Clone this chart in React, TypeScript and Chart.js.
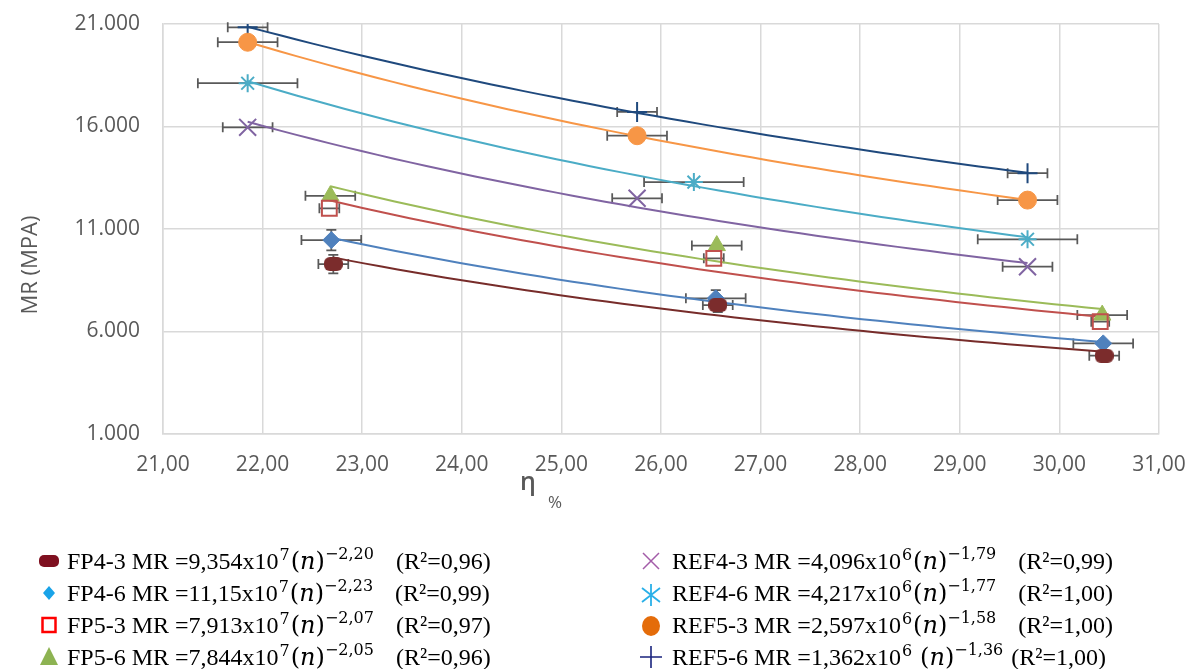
import React, { useEffect, useRef } from 'react';
import { Chart, registerables } from 'chart.js';

Chart.register(...registerables);

// ---------- data ----------
const seriesNames = ['FP4-3', 'FP4-6', 'FP5-3', 'FP5-6', 'REF4-3', 'REF4-6', 'REF5-3', 'REF5-6'];

const fp43X = [22.71, 26.57, 30.45];
const fp43Y = [9290, 7290, 4820];
const fp43XErr = [0.15, 0.15, 0.15];
const fp43YErr = [450, 350, 0];

const fp46X = [22.69, 26.55, 30.44];
const fp46Y = [10460, 7620, 5420];
const fp46XErr = [0.3, 0.3, 0.3];
const fp46YErr = [500, 400, 0];

const fp53X = [22.67, 26.53, 30.41];
const fp53Y = [12010, 9570, 6480];
const fp53XErr = [0.1, 0.1, 0.09];
const fp53YErr = [0, 0, 0];

const fp56X = [22.68, 26.56, 30.43];
const fp56Y = [12620, 10190, 6800];
const fp56XErr = [0.25, 0.25, 0.25];
const fp56YErr = [0, 0, 0];

const ref43X = [21.85, 25.76, 29.68];
const ref43Y = [15960, 12500, 9160];
const ref43XErr = [0.25, 0.25, 0.25];
const ref43YErr = [0, 0, 0];

const ref46X = [21.85, 26.33, 29.68];
const ref46Y = [18110, 13290, 10500];
const ref46XErr = [0.5, 0.5, 0.5];
const ref46YErr = [0, 0, 0];

const ref53X = [21.85, 25.76, 29.68];
const ref53Y = [20110, 15550, 12410];
const ref53XErr = [0.3, 0.3, 0.3];
const ref53YErr = [0, 0, 0];

const ref56X = [21.85, 25.76, 29.68];
const ref56Y = [20840, 16710, 13720];
const ref56XErr = [0.2, 0.2, 0.2];
const ref56YErr = [0, 0, 0];

const allX = [fp43X, fp46X, fp53X, fp56X, ref43X, ref46X, ref53X, ref56X];
const allY = [fp43Y, fp46Y, fp53Y, fp56Y, ref43Y, ref46Y, ref53Y, ref56Y];
const allXErr = [fp43XErr, fp46XErr, fp53XErr, fp56XErr, ref43XErr, ref46XErr, ref53XErr, ref56XErr];
const allYErr = [fp43YErr, fp46YErr, fp53YErr, fp56YErr, ref43YErr, ref46YErr, ref53YErr, ref56YErr];

// axis ticks
const xMin = 21;
const xMax = 31;
const xStep = 1;
const yMin = 1000;
const yMax = 21000;
const yStep = 5000;

// legend texts
const legendCoef = ['9,354x10', '11,15x10', '7,913x10', '7,844x10', '4,096x10', '4,217x10', '2,597x10', '1,362x10'];
const legendPow10 = ['7', '7', '7', '7', '6', '6', '6', '6'];
const legendExp = ['−2,20', '−2,23', '−2,07', '−2,05', '−1,79', '−1,77', '−1,58', '−1,36'];
const legendR2 = ['0,96', '0,99', '0,97', '0,96', '0,99', '1,00', '1,00', '1,00'];

const yTitle = 'MR (MPA)';
const xTitleMain = 'η';
const xTitleSub = '%';

// ---------- styles ----------
const lineColors = ['#772c2a', '#4f81bd', '#c0504d', '#9bbb59', '#8064a2', '#4bacc6', '#f79646', '#1f497d'];
const legendColors = ['#7f1020', '#19a3e8', '#ff0000', '#8db352', '#a35ca8', '#2ab0e8', '#e46c0a', '#1a237e'];
const GRID = '#d9d9d9';
const TICK = '#595959';
const ERR = '#595959';

function roundRectPath(g: CanvasRenderingContext2D, x: number, y: number, w: number, h: number, r: number) {
  g.beginPath();
  g.moveTo(x + r, y);
  g.lineTo(x + w - r, y);
  g.arcTo(x + w, y, x + w, y + r, r);
  g.lineTo(x + w, y + h - r);
  g.arcTo(x + w, y + h, x + w - r, y + h, r);
  g.lineTo(x + r, y + h);
  g.arcTo(x, y + h, x, y + h - r, r);
  g.lineTo(x, y + r);
  g.arcTo(x, y, x + r, y, r);
  g.closePath();
}

function makePill(w: number, h: number, r: number, color: string) {
  const c = document.createElement('canvas');
  c.width = w;
  c.height = h;
  const g = c.getContext('2d')!;
  g.fillStyle = color;
  roundRectPath(g, 0, 0, w, h, r);
  g.fill();
  return c;
}

function powerFit(xs: number[], ys: number[]) {
  const n = xs.length;
  const lx = xs.map(Math.log);
  const ly = ys.map(Math.log);
  const mx = lx.reduce((a, b) => a + b, 0) / n;
  const my = ly.reduce((a, b) => a + b, 0) / n;
  let sxy = 0;
  let sxx = 0;
  for (let i = 0; i < n; i++) {
    sxy += (lx[i] - mx) * (ly[i] - my);
    sxx += (lx[i] - mx) * (lx[i] - mx);
  }
  const b = sxy / sxx;
  const a = Math.exp(my - b * mx);
  return { a, b };
}

function trendData(xs: number[], ys: number[]) {
  const { a, b } = powerFit(xs, ys);
  const lo = Math.min(...xs);
  const hi = Math.max(...xs);
  const pts: { x: number; y: number }[] = [];
  const steps = 48;
  for (let i = 0; i <= steps; i++) {
    const x = lo + ((hi - lo) * i) / steps;
    pts.push({ x, y: a * Math.pow(x, b) });
  }
  return pts;
}

const errorBarPlugin = {
  id: 'errorBars',
  beforeDatasetsDraw(chart: any) {
    const ctx = chart.ctx;
    const xs = chart.scales.x;
    const ys = chart.scales.y;
    ctx.save();
    ctx.strokeStyle = ERR;
    ctx.lineWidth = 1.75;
    const cap = 5;
    for (let s = 0; s < allX.length; s++) {
      for (let i = 0; i < allX[s].length; i++) {
        const x = allX[s][i];
        const y = allY[s][i];
        const px = xs.getPixelForValue(x);
        const py = ys.getPixelForValue(y);
        const ex = allXErr[s][i];
        if (ex > 0) {
          const x0 = xs.getPixelForValue(x - ex);
          const x1 = xs.getPixelForValue(x + ex);
          ctx.beginPath();
          ctx.moveTo(x0, py);
          ctx.lineTo(x1, py);
          ctx.moveTo(x0, py - cap);
          ctx.lineTo(x0, py + cap);
          ctx.moveTo(x1, py - cap);
          ctx.lineTo(x1, py + cap);
          ctx.stroke();
        }
        const ey = allYErr[s][i];
        if (ey > 0) {
          const y0 = ys.getPixelForValue(y - ey);
          const y1 = ys.getPixelForValue(y + ey);
          ctx.beginPath();
          ctx.moveTo(px, y0);
          ctx.lineTo(px, y1);
          ctx.moveTo(px - cap, y0);
          ctx.lineTo(px + cap, y0);
          ctx.moveTo(px - cap, y1);
          ctx.lineTo(px + cap, y1);
          ctx.stroke();
        }
      }
    }
    ctx.restore();
  },
};

function drawLegendMarker(ctx: CanvasRenderingContext2D, i: number, cx: number, cy: number) {
  const c = legendColors[i];
  ctx.save();
  ctx.fillStyle = c;
  ctx.strokeStyle = c;
  switch (i) {
    case 0:
      roundRectPath(ctx, cx - 10, cy - 6, 20, 12, 5);
      ctx.fill();
      break;
    case 1:
      ctx.beginPath();
      ctx.moveTo(cx, cy - 7);
      ctx.lineTo(cx + 6, cy);
      ctx.lineTo(cx, cy + 7);
      ctx.lineTo(cx - 6, cy);
      ctx.closePath();
      ctx.fill();
      break;
    case 2:
      ctx.lineWidth = 2.5;
      ctx.strokeRect(cx - 6.5, cy - 7, 13, 14);
      break;
    case 3:
      ctx.beginPath();
      ctx.moveTo(cx, cy - 10);
      ctx.lineTo(cx + 9, cy + 8);
      ctx.lineTo(cx - 9, cy + 8);
      ctx.closePath();
      ctx.fill();
      break;
    case 4:
      ctx.lineWidth = 1.5;
      ctx.beginPath();
      ctx.moveTo(cx - 8, cy - 8);
      ctx.lineTo(cx + 8, cy + 8);
      ctx.moveTo(cx + 8, cy - 8);
      ctx.lineTo(cx - 8, cy + 8);
      ctx.stroke();
      break;
    case 5:
      ctx.lineWidth = 1.8;
      ctx.beginPath();
      ctx.moveTo(cx, cy - 9);
      ctx.lineTo(cx, cy + 13);
      ctx.moveTo(cx - 9, cy - 5);
      ctx.lineTo(cx + 9, cy + 9);
      ctx.moveTo(cx + 9, cy - 5);
      ctx.lineTo(cx - 9, cy + 9);
      ctx.stroke();
      break;
    case 6:
      ctx.beginPath();
      ctx.ellipse(cx, cy + 1, 9, 10, 0, 0, Math.PI * 2);
      ctx.fill();
      break;
    case 7:
      ctx.lineWidth = 1.6;
      ctx.beginPath();
      ctx.moveTo(cx - 11, cy);
      ctx.lineTo(cx + 11, cy);
      ctx.moveTo(cx, cy - 11);
      ctx.lineTo(cx, cy + 11);
      ctx.stroke();
      break;
  }
  ctx.restore();
}

const MAIN = '24px "Liberation Serif"';
const MATH = '24px "DejaVu Serif"';
const MATHI = 'italic 24px "DejaVu Serif"';
const SUP = '16px "DejaVu Serif"';

function drawLegendRow(ctx: CanvasRenderingContext2D, i: number, x: number, base: number) {
  let cx = x;
  const seg = (t: string, font: string, dy = 0) => {
    ctx.font = font;
    ctx.fillText(t, cx, base - dy);
    cx += ctx.measureText(t).width;
  };
  ctx.fillStyle = '#000';
  ctx.textAlign = 'left';
  ctx.textBaseline = 'alphabetic';
  seg(`${seriesNames[i]} MR =${legendCoef[i]}`, MAIN);
  cx += 1;
  seg(legendPow10[i], SUP, 9);
  cx += i === 7 ? 8 : 1;
  seg('(', MATH);
  seg('n', MATHI);
  seg(')', MATH);
  seg(legendExp[i], SUP, 10);
  cx += i === 7 ? 8 : 22;
  seg(`(R²=${legendR2[i]})`, MAIN);
}

const annotationsPlugin = {
  id: 'annotations',
  afterDraw(chart: any) {
    const ctx: CanvasRenderingContext2D = chart.ctx;
    ctx.save();
    // y axis title
    ctx.fillStyle = TICK;
    ctx.font = '22px "Open Sans"';
    ctx.textAlign = 'center';
    ctx.textBaseline = 'middle';
    ctx.translate(31, 265);
    ctx.rotate(-Math.PI / 2);
    ctx.fillText(yTitle, 0, 0);
    ctx.restore();

    ctx.save();
    ctx.fillStyle = TICK;
    ctx.textAlign = 'left';
    ctx.textBaseline = 'alphabetic';
    ctx.font = '600 25px "Open Sans"';
    ctx.fillText(xTitleMain, 520, 490);
    ctx.font = '17px "Open Sans"';
    ctx.fillText(xTitleSub, 548, 508);
    ctx.restore();

    // legend
    ctx.save();
    const rowBase = [569, 601, 633, 665];
    for (let r = 0; r < 4; r++) {
      drawLegendMarker(ctx, r, 49, rowBase[r] - 8);
      drawLegendRow(ctx, r, 67, rowBase[r]);
      drawLegendMarker(ctx, r + 4, 651, rowBase[r] - 8);
      drawLegendRow(ctx, r + 4, 672, rowBase[r]);
    }
    ctx.restore();
  },
};

export default function App() {
  const ref = useRef<HTMLCanvasElement | null>(null);

  useEffect(() => {
    const canvas = ref.current!;
    const pill = makePill(19, 14, 6, '#7b2c2c');

    const pointStyles: any[] = [pill, 'rectRot', 'rect', 'triangle', 'crossRot', 'star', 'circle', 'cross'];
    const pointRadii = [8, 8.5, 10.5, 10, 12, 9, 9, 10];
    const pointBg = ['#7b2c2c', '#4f81bd', 'rgba(0,0,0,0)', '#9bbb59', '#8064a2', '#4bacc6', '#f79646', '#1f497d'];
    const pointBorderW = [0, 1, 2, 1, 2, 2, 1, 2];

    const pointSets = seriesNames.map((name, s) => ({
      label: name,
      type: 'scatter' as const,
      data: allX[s].map((x, i) => ({ x, y: allY[s][i] })),
      pointStyle: pointStyles[s],
      pointRadius: pointRadii[s],
      pointHoverRadius: pointRadii[s],
      backgroundColor: pointBg[s],
      borderColor: lineColors[s],
      borderWidth: pointBorderW[s],
      showLine: false,
      order: 1,
    }));

    const trendSets = seriesNames.map((name, s) => ({
      label: `Potencial (${name})`,
      type: 'line' as const,
      data: trendData(allX[s], allY[s]),
      borderColor: lineColors[s],
      borderWidth: 2,
      pointRadius: 0,
      fill: false,
      tension: 0,
      order: 2,
    }));

    const chart = new Chart(canvas, {
      type: 'scatter',
      data: { datasets: [...pointSets, ...trendSets] as any },
      plugins: [errorBarPlugin, annotationsPlugin],
      options: {
        responsive: false,
        animation: false,
        devicePixelRatio: 1,
        layout: { padding: { left: 0, top: 24, right: 32, bottom: 175 } },
        plugins: {
          legend: { display: false },
          tooltip: { enabled: false },
          title: { display: false },
        },
        scales: {
          x: {
            type: 'linear',
            min: xMin,
            max: xMax,
            afterFit: (scale: any) => {
              scale.height = 60;
              scale.paddingLeft = 0;
              scale.paddingRight = 0;
            },
            ticks: {
              stepSize: xStep,
              padding: 18,
              color: TICK,
              font: { family: 'Open Sans', size: 21 },
              callback: (v: any) => Number(v).toFixed(2).replace('.', ','),
            },
            grid: { color: GRID, lineWidth: 1.5, drawTicks: false },
            border: { color: GRID, width: 1.5 },
          },
          y: {
            type: 'linear',
            min: yMin,
            max: yMax,
            afterFit: (scale: any) => {
              scale.width = 163;
              scale.paddingTop = 0;
              scale.paddingBottom = 0;
            },
            ticks: {
              stepSize: yStep,
              padding: 23,
              color: TICK,
              font: { family: 'Open Sans', size: 21 },
              callback: (v: any) => {
                const n = Math.round(Number(v));
                const th = Math.floor(n / 1000);
                const rest = String(n % 1000).padStart(3, '0');
                return `${th}.${rest}`;
              },
            },
            grid: { color: GRID, lineWidth: 1.5, drawTicks: false },
            border: { color: GRID, width: 1.5 },
          },
        },
      } as any,
    });

    return () => chart.destroy();
  }, []);

  return (
    <div style={{ position: 'absolute', left: 0, top: 0, width: 1191, height: 669, background: '#fff' }}>
      <canvas ref={ref} width={1191} height={669} style={{ display: 'block' }} />
    </div>
  );
}
